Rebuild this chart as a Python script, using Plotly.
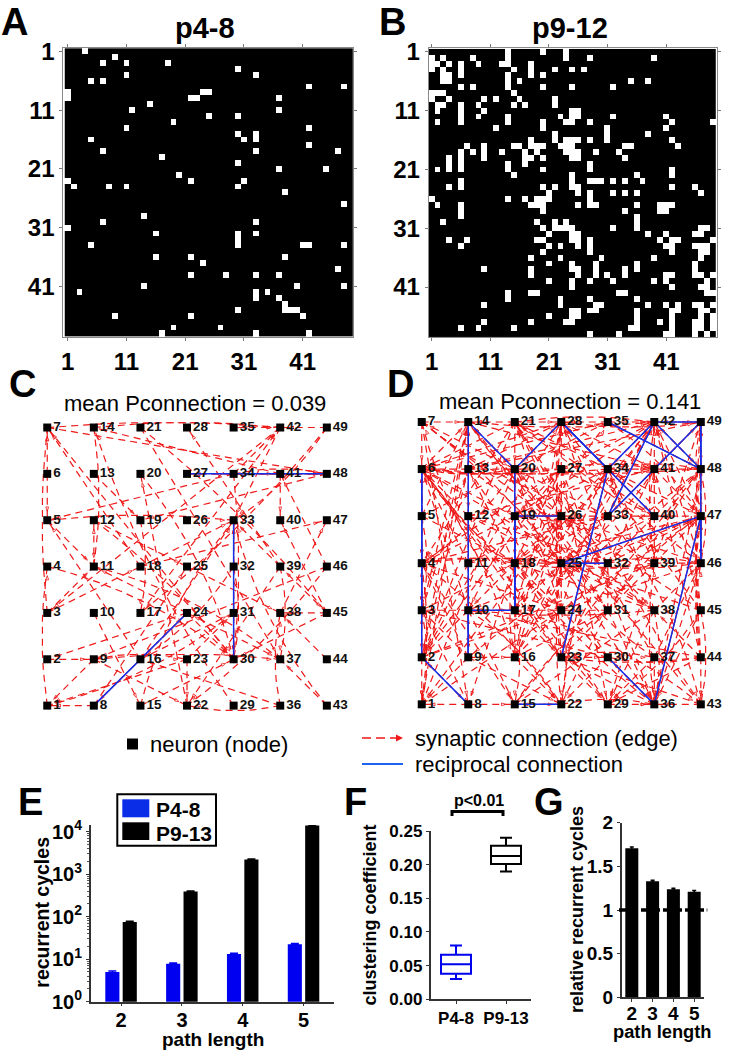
import math
import plotly.graph_objects as go

W, H = 733, 1050
FONT = "Liberation Sans"

# ---- connectivity matrices: white cells per row (row -> list of columns) ----
A_ROWS = [
    [4], [9], [7, 11, 18], [30], [11, 33], [5, 7], [42, 48], [1, 24, 25], [1, 22, 23, 37], [15],
    [12, 37], [25, 30], [19], [11, 42], [30, 33], [5, 31, 33], [42], [7, 33, 47], [17], [30],
    [37, 45], [20], [1, 22, 31], [2, 8, 11, 30], [38], [], [48], [], [14], [7, 33],
    [1], [16, 30, 33], [30], [5, 30, 41, 42, 48], [], [16, 22, 38], [24], [47], [22, 28, 33, 37], [],
    [14, 40, 48], [3, 33, 35], [33, 37], [38], [30, 38, 39, 40], [9, 22, 41], [], [19, 27], [17, 33, 42],
]
B_ROWS = [
    [14, 20, 24], [1, 3, 8, 14, 24, 28, 39], [1, 2, 4, 6, 9, 13, 14, 18], [1, 3, 6, 15, 18, 22, 25, 27],
    [3, 4, 6, 14, 18, 20], [3, 4, 14, 16, 35, 38], [6, 8, 14, 20, 25, 32], [1, 2, 3, 15],
    [1, 4, 10, 12, 16, 22], [2, 3, 6, 9, 15, 17, 22], [2, 6, 10, 25, 26], [6, 9, 14, 23, 25, 26, 32, 41],
    [2, 6, 14, 20, 24, 25, 28, 42, 49], [12, 20, 31, 41], [22, 31, 38], [18, 22, 24, 25, 26, 28, 31, 42],
    [7, 10, 15, 16, 18, 19, 20, 23, 24, 25, 34, 35, 43], [6, 8, 10, 13, 17, 19, 24, 25, 26, 29, 33],
    [4, 6, 10, 17, 18, 20, 25, 26, 34], [4, 6, 14, 17, 28], [2, 4, 6, 14, 20, 28, 42], [15, 25, 36, 42],
    [6, 25, 28, 29, 30, 32, 34, 37], [4, 6, 20, 22, 25, 26, 42, 46], [21, 26, 28, 32, 34, 36, 47],
    [1, 14, 17, 19, 20, 21, 28], [2, 6, 18, 19, 20, 26, 28, 29, 36, 40, 41, 42], [6, 20, 34, 40, 41],
    [6, 36], [3, 19, 22, 24, 36], [20, 22, 23, 24, 25, 32, 36, 47, 48], [21, 25, 26, 38, 41, 46, 47],
    [4, 7, 19, 20, 25, 26, 28, 40, 42, 43, 49], [6, 21, 23, 26, 28, 41, 42, 46, 47, 48], [20, 28, 42, 47, 48],
    [18, 23, 30, 39, 47], [21, 25, 29, 36, 46], [10, 18, 25, 26, 29, 34, 36, 46],
    [18, 26, 29, 31, 34, 41, 42, 46, 47, 49], [21, 25, 28, 32, 39, 41, 48], [25, 42, 47, 48],
    [14, 18, 19, 33, 34, 48, 49], [14, 23, 28, 36], [10, 23, 29, 30, 38, 41, 43, 46, 47, 49],
    [25, 26, 28, 29, 36, 42, 43, 47, 48], [21, 25, 26, 36, 42, 47, 49], [10, 18, 24, 25, 36, 40, 42, 46, 47, 49],
    [6, 9, 15, 35, 36, 42, 46, 47, 49], [28, 33, 41, 42, 46, 48],
]
MATRIX_TICKS = [1, 11, 21, 31, 41]

# ---- bar / box values ----
PATH_LENGTHS = ["2", "3", "4", "5"]
CYCLES_P4_8 = [5.0, 7.8, 13.2, 22.5]
CYCLES_P4_8_ERR = [0.25, 0.35, 0.6, 1.0]
CYCLES_P9_13 = [75, 390, 2200, 14000]
CYCLES_P9_13_ERR = [3, 12, 80, 300]
CLUSTER_GROUPS = ["P4-8", "P9-13"]
CLUSTER_LOW = [0.03, 0.19]
CLUSTER_Q1 = [0.038, 0.201]
CLUSTER_MED = [0.052, 0.213]
CLUSTER_Q3 = [0.066, 0.228]
CLUSTER_HIGH = [0.08, 0.24]
RELATIVE = [1.706, 1.33, 1.237, 1.21]
RELATIVE_ERR = [0.015, 0.012, 0.012, 0.012]


def fx(px):
    return px / W


def fy(py):
    return 1 - py / H


def dom_x(l, r):
    return [fx(l), fx(r)]


def dom_y(t, b):
    return [fy(b), fy(t)]


def matrix_z(rows):
    return [[1 if c in row else 0 for c in range(1, 50)] for row in rows]


fig = go.Figure()
annotations, shapes = [], []


def ann(text, x, y, size, bold=True, angle=0, xanchor="center", color="black"):
    annotations.append(dict(
        text=text, x=fx(x), y=fy(y), xref="paper", yref="paper", showarrow=False,
        xanchor=xanchor, yanchor="middle", textangle=angle,
        font=dict(family=FONT, size=size, color=color, weight="bold" if bold else "normal"),
    ))


# ---- matrices ----
def add_matrix(rows, ax, xrange, yrange, dx, dy):
    fig.add_trace(go.Heatmap(
        z=matrix_z(rows), x=list(range(1, 50)), y=list(range(1, 50)),
        colorscale=[[0, "black"], [1, "white"]], zmin=0, zmax=1, showscale=False,
        xaxis="x" + ax, yaxis="y" + ax, hoverinfo="skip",
    ))
    common = dict(
        tickmode="array", tickvals=MATRIX_TICKS, ticktext=[str(t) for t in MATRIX_TICKS],
        ticks="outside", ticklen=3, tickcolor="#777777", tickwidth=1,
        showline=True, linecolor="#888888", linewidth=1, mirror="ticks",
        showgrid=False, zeroline=False,
        tickfont=dict(family=FONT, size=24, color="black", weight="bold"),
    )
    fig.update_layout({
        "xaxis" + ax: dict(domain=dx, range=xrange, anchor="y" + ax, **common),
        "yaxis" + ax: dict(domain=dy, range=yrange, anchor="x" + ax, **common),
    })


add_matrix(A_ROWS, "", [0.25, 49.56], [49.55, 0.44], dom_x(63.3, 353), dom_y(48, 337))
add_matrix(B_ROWS, "2", [0.49, 49.6], [49.55, 0.39], dom_x(428.7, 716.7), dom_y(48.3, 337.3))


# ---- graphs ----
def node_xy(n):
    return (n - 1) // 7, (n - 1) % 7


def add_graph(rows, ax, xrange, yrange, dx, dy, head_x, head_y):
    edges = [(i + 1, c) for i, row in enumerate(rows) for c in row if c != i + 1]
    eset = set(edges)
    ex, ey, bx, by, hx, hy, ha = [], [], [], [], [], [], []
    for s, t in edges:
        x0, y0 = node_xy(s)
        x1, y1 = node_xy(t)
        reciprocal = (t, s) in eset
        steps = math.gcd(abs(x1 - x0), abs(y1 - y0))
        bow = 0.11 if steps > 1 and not reciprocal else 0.0
        if reciprocal and s < t:
            bx += [x0, x1, None]
            by += [y0, y1, None]
        px, py = [], []
        for k in range(9):
            u = k / 8
            off = bow * 4 * u * (1 - u)
            px.append(x0 + (x1 - x0) * u - (y1 - y0) / steps * off)
            py.append(y0 + (y1 - y0) * u + (x1 - x0) / steps * off)
        ex += px + [None]
        ey += py + [None]
        ddx, ddy = (x1 - x0) * head_x, (y1 - y0) * head_y
        length = math.hypot(ddx, ddy)
        f = 1 - 9 / length
        hx.append(x0 + (x1 - x0) * f)
        hy.append(y0 + (y1 - y0) * f)
        ha.append(math.degrees(math.atan2(ddx, ddy)))
    fig.add_trace(go.Scatter(
        x=ex, y=ey, mode="lines", xaxis="x" + ax, yaxis="y" + ax, hoverinfo="skip",
        line=dict(color="#f01818", width=1.2, dash="7px,5px"), connectgaps=False,
    ))
    fig.add_trace(go.Scatter(
        x=hx, y=hy, mode="markers", xaxis="x" + ax, yaxis="y" + ax, hoverinfo="skip",
        marker=dict(symbol="arrow-open", size=4.5, angle=ha, color="#f01818",
                    line=dict(width=0.8, color="#f01818")),
    ))
    fig.add_trace(go.Scatter(
        x=bx, y=by, mode="lines", xaxis="x" + ax, yaxis="y" + ax, hoverinfo="skip",
        line=dict(color="#1030ee", width=1.5),
    ))
    nodes = list(range(1, 50))
    fig.add_trace(go.Scatter(
        x=[node_xy(n)[0] for n in nodes], y=[node_xy(n)[1] for n in nodes],
        mode="markers+text", text=[str(n) for n in nodes], textposition="middle right",
        textfont=dict(family=FONT, size=13.5, color="#111111", weight="bold"),
        marker=dict(symbol="square", size=8, color="black"),
        xaxis="x" + ax, yaxis="y" + ax, hoverinfo="skip", cliponaxis=False,
    ))
    hidden = dict(visible=False, showgrid=False, zeroline=False)
    fig.update_layout({
        "xaxis" + ax: dict(domain=dx, range=xrange, anchor="y" + ax, **hidden),
        "yaxis" + ax: dict(domain=dy, range=yrange, anchor="x" + ax, **hidden),
    })


add_graph(A_ROWS, "3", [-0.37, 6.39], [-0.31, 6.27], dom_x(30, 345), dom_y(415, 720), 46.57, 46.33)
add_graph(B_ROWS, "4", [-0.36, 6.52], [-0.29, 6.255], dom_x(405, 725), dom_y(410, 718), 46.55, 47.05)

axis_line = dict(showline=True, linecolor="#333333", linewidth=1.5, showgrid=False, zeroline=False,
                 ticks="outside", ticklen=3, tickcolor="#333333", tickwidth=1)

# ---- E ----
fig.add_trace(go.Bar(
    x=PATH_LENGTHS, y=CYCLES_P4_8, width=0.232, offset=-0.26, marker=dict(color="#0000f0", line_width=0),
    error_y=dict(type="data", array=CYCLES_P4_8_ERR, color="#0000f0", thickness=1.5, width=4),
    xaxis="x5", yaxis="y5", name="P4-8", showlegend=False,
))
fig.add_trace(go.Bar(
    x=PATH_LENGTHS, y=CYCLES_P9_13, width=0.232, offset=0.026, marker=dict(color="black", line_width=0),
    error_y=dict(type="data", array=CYCLES_P9_13_ERR, color="black", thickness=1.5, width=4),
    xaxis="x5", yaxis="y5", name="P9-13", showlegend=False,
))
fig.update_layout(
    xaxis5=dict(domain=dom_x(90.7, 334), range=[-0.5, 3.5], anchor="y5", type="category",
                tickmode="array", tickvals=PATH_LENGTHS, ticktext=PATH_LENGTHS, ticklabelstandoff=-3,
                tickfont=dict(family=FONT, size=20, color="black", weight="bold"), **axis_line),
    yaxis5=dict(domain=dom_y(825, 1001.7), type="log", range=[0, 4.155], anchor="x5",
                tickmode="array", tickvals=[1, 10, 100, 1000, 10000],
                ticktext=["10<sup>%d</sup>" % p for p in range(5)],
                minor=dict(ticks="outside", ticklen=2, dtick="D1", tickcolor="#555555"),
                tickfont=dict(family=FONT, size=20, color="black", weight="bold"), **axis_line),
)

# ---- F ----
for i, color in enumerate(["#0000f0", "black"]):
    fig.add_trace(go.Box(
        x=[CLUSTER_GROUPS[i]], q1=[CLUSTER_Q1[i]], median=[CLUSTER_MED[i]], q3=[CLUSTER_Q3[i]],
        lowerfence=[CLUSTER_LOW[i]], upperfence=[CLUSTER_HIGH[i]], width=0.6, whiskerwidth=0.4,
        line=dict(color=color, width=2), fillcolor="white", xaxis="x6", yaxis="y6",
        boxpoints=False, showlegend=False, name=CLUSTER_GROUPS[i],
    ))
fig.update_layout(
    xaxis6=dict(domain=dom_x(430.5, 531), range=[-0.51, 1.5], anchor="y6", type="category",
                categoryorder="array", categoryarray=CLUSTER_GROUPS,
                tickmode="array", tickvals=CLUSTER_GROUPS, ticktext=CLUSTER_GROUPS,
                tickfont=dict(family=FONT, size=17, color="black", weight="bold"), **axis_line),
    yaxis6=dict(domain=dom_y(831, 999.3), range=[0, 0.25], anchor="x6", tickmode="array",
                tickvals=[0, 0.05, 0.10, 0.15, 0.20, 0.25],
                ticktext=["0.00", "0.05", "0.10", "0.15", "0.20", "0.25"],
                tickfont=dict(family=FONT, size=17, color="black", weight="bold"), **axis_line),
)

# ---- G ----
fig.add_trace(go.Bar(
    x=PATH_LENGTHS, y=RELATIVE, width=0.625, marker=dict(color="black", line_width=0),
    error_y=dict(type="data", array=RELATIVE_ERR, color="black", thickness=1.5, width=2),
    xaxis="x7", yaxis="y7", showlegend=False, name="relative",
))
fig.update_layout(
    xaxis7=dict(domain=dom_x(621.7, 704.3), range=[-0.486, 3.486], anchor="y7", type="category",
                tickmode="array", tickvals=PATH_LENGTHS, ticktext=PATH_LENGTHS, ticklabelstandoff=-5,
                tickfont=dict(family=FONT, size=19, color="black", weight="bold"), **axis_line),
    yaxis7=dict(domain=dom_y(822.7, 997.3), range=[0, 2], anchor="x7", tickmode="array",
                tickvals=[0, 0.5, 1, 1.5, 2], ticktext=["0", "0.5", "1", "1.5", "2"],
                tickfont=dict(family=FONT, size=19, color="black", weight="bold"), **axis_line),
)
shapes.append(dict(type="line", xref="paper", yref="y7", x0=fx(619), x1=fx(704), y0=1, y1=1,
                   line=dict(color="black", width=3.5, dash="19px,3px"), layer="above"))
shapes.append(dict(type="line", xref="paper", yref="y7", x0=fx(706), x1=fx(708), y0=1, y1=1,
                   line=dict(color="#aaaaaa", width=3), layer="above"))

# ---- panel letters and titles ----
for letter, x, y in [("A", 14, 22), ("B", 392, 22), ("C", 22, 384), ("D", 400, 384),
                     ("E", 30, 802), ("F", 355, 802), ("G", 549, 802)]:
    ann(letter, x, y, 38)
ann("p4-8", 205, 28, 29)
ann("p9-12", 570, 28, 29)
ann("mean Pconnection = 0.039", 195, 403, 22, bold=False)
ann("mean Pconnection = 0.141", 570, 401, 22, bold=False)
ann("neuron (node)", 148, 744, 22, bold=False, xanchor="left")
ann("synaptic connection (edge)", 412.7, 738, 22, bold=False, xanchor="left")
ann("reciprocal connection", 412.7, 764, 22, bold=False, xanchor="left")

ann("recurrent cycles", 41.7, 912, 19.5, angle=-90)
ann("path length", 212.7, 1039, 19)
ann("clustering coefficient", 369.5, 915, 18, angle=-90)
ann("p<0.01", 479, 800, 16)
ann("relative recurrent cycles", 577, 910, 18, angle=-90)
ann("path length", 662.5, 1031, 18.3)
ann("P4-8", 154, 809, 21, xanchor="left")
ann("P9-13", 154, 833.3, 21, xanchor="left")


def rect(x0, y0, x1, y1, fill, line=None, lw=0):
    shapes.append(dict(type="rect", xref="paper", yref="paper", x0=fx(x0), x1=fx(x1), y0=fy(y0), y1=fy(y1),
                       fillcolor=fill, line=dict(color=line or fill, width=lw), layer="above"))


rect(127, 738.5, 138, 749.5, "black")
shapes.append(dict(type="line", xref="paper", yref="paper", x0=fx(362), x1=fx(398), y0=fy(738), y1=fy(738),
                   line=dict(color="#f01818", width=1.5, dash="9px,5px"), layer="above"))
shapes.append(dict(type="path", xref="paper", yref="paper", fillcolor="#f01818", line=dict(width=0),
                   path="M %f %f L %f %f L %f %f Z" % (fx(403), fy(738), fx(396), fy(734.5), fx(396), fy(741.5)),
                   layer="above"))
shapes.append(dict(type="line", xref="paper", yref="paper", x0=fx(362), x1=fx(403), y0=fy(764), y1=fy(764),
                   line=dict(color="#1f63f5", width=2), layer="above"))
rect(117.3, 794.3, 216, 845.7, "white", "black", 2)
rect(122.3, 799.3, 149.3, 817.3, "#0a2ee8")
rect(122.3, 822.3, 149.3, 840, "black")
shapes.append(dict(type="path", xref="paper", yref="paper", line=dict(color="black", width=3),
                   path="M %f %f L %f %f L %f %f L %f %f" % (fx(452), fy(816), fx(452), fy(811.5),
                                                             fx(503), fy(811.5), fx(503), fy(816)),
                   layer="above"))

fig.update_layout(
    template="none",
    width=W, height=H, autosize=False, margin=dict(l=0, r=0, t=0, b=0, pad=0),
    paper_bgcolor="white", plot_bgcolor="white", barmode="overlay",
    showlegend=False, annotations=annotations, shapes=shapes,
    font=dict(family=FONT, color="black"),
)
fig.write_html("out.html", config={"displayModeBar": False},
               post_script="document.body.style.margin='0';")
